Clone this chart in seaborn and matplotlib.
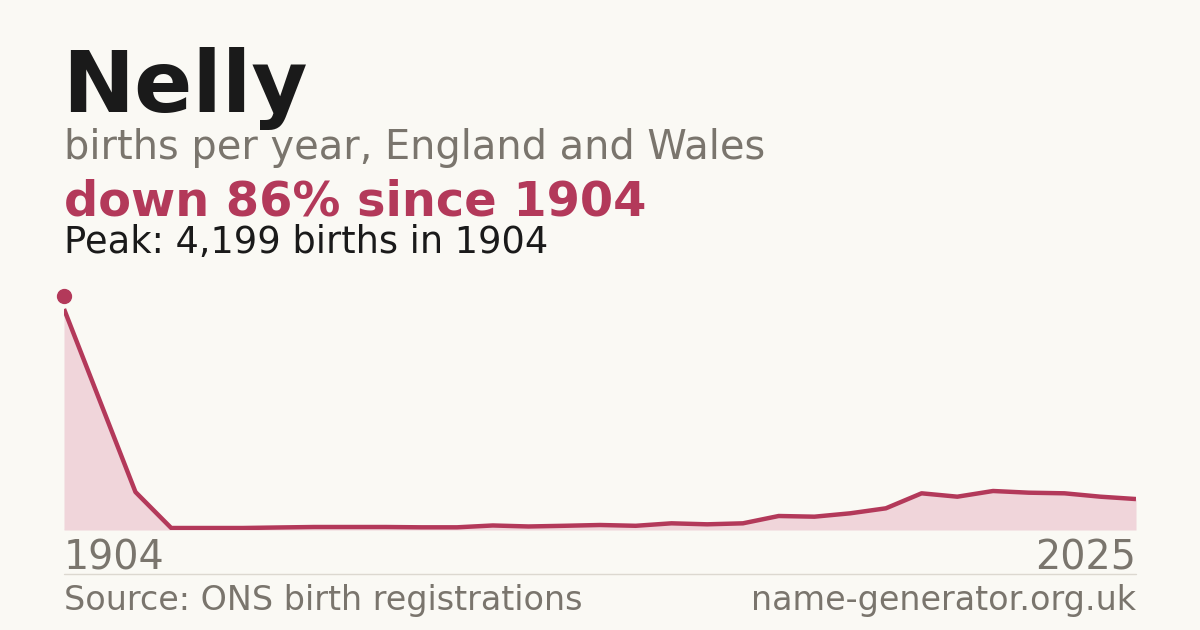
import numpy as np
import pandas as pd
import matplotlib
matplotlib.use("Agg")
import matplotlib.pyplot as plt
import matplotlib.transforms as mtransforms
import seaborn as sns

# ---- data ----
name = "Nelly"
years = [1904, 1908, 1912, 1916, 1920, 1924, 1928, 1932, 1936, 1940,
         1944, 1948, 1952, 1956, 1960, 1964, 1968, 1972, 1976, 1980,
         1984, 1988, 1992, 1996, 2000, 2004, 2008, 2012, 2016, 2020, 2025]
births = [4199, 2460, 722, 38, 38, 38, 48, 57, 57, 57,
          51, 51, 86, 67, 80, 95, 80, 127, 108, 127,
          266, 253, 317, 412, 697, 633, 741, 709, 697, 633, 588]
first_label = "1904"
last_label = "2025"
subtitle = "births per year, England and Wales"
change_text = "down 86% since 1904"
peak_text = "Peak: 4,199 births in 1904"
source_text = "Source: ONS birth registrations"
site_text = "name-generator.org.uk"

BG = "#faf9f4"
RED = "#b3395a"
FILL = "#f0d5da"
GREY = "#7a756d"
DARK = "#1a1a1a"

sns.set_theme(style="white")
plt.rcParams["font.family"] = ["DejaVu Sans"]

W, H = 1200, 630
fig = plt.figure(figsize=(W / 100, H / 100), dpi=100, facecolor=BG)

left, right = 64 / W, 1136 / W
bottom, top = 1 - 530 / H, 1 - 296 / H
ax = fig.add_axes([left, bottom, right - left, top - bottom])
ax.set_facecolor(BG)

df = pd.DataFrame({"idx": np.arange(len(years)), "year": years, "births": births})
peak = max(births)
ax.fill_between(df["idx"], 0, df["births"], color=FILL, lw=0, zorder=1)
sns.lineplot(data=df, x="idx", y="births", ax=ax, color=RED, lw=3.2,
             solid_joinstyle="round", solid_capstyle="butt", zorder=3)
# peak marker (drawn slightly above the line start)
pk = int(np.argmax(births))
off = mtransforms.offset_copy(ax.transData, fig=fig, x=0, y=13, units="dots")
ax.plot([df["idx"][pk]], [peak], "o", ms=10, color=RED, transform=off,
        clip_on=False, zorder=4)

ax.set_xlim(0, len(years) - 1)
ax.set_ylim(0, peak * 234 / 221)
ax.set_xlabel("")
ax.set_ylabel("")
ax.set_xticks([])
ax.set_yticks([])
for s in ax.spines.values():
    s.set_visible(False)
ax.axhline(0, color="#dcd8d0", lw=1.0, zorder=0)

# separator line
fig.add_artist(plt.Line2D([left, right], [1 - 574 / H, 1 - 574 / H],
                          color="#dcd8d0", lw=1.0, transform=fig.transFigure))

def ftext(x, y_px, s, **kw):
    fig.text(x, 1 - y_px / H, s, va="baseline", **kw)

ftext(left - 2 / W, 112, name, fontsize=62, fontweight="bold", color=DARK)
ftext(left, 159, subtitle, fontsize=28.7, color=GREY)
ftext(left, 215, change_text, fontsize=34.5, fontweight="bold", color=RED)
ftext(left, 253, peak_text, fontsize=26.5, color=DARK)
ftext(left, 570, first_label, fontsize=28.5, color=GREY)
ftext(right, 570, last_label, fontsize=28.5, color=GREY, ha="right")
ftext(left, 610, source_text, fontsize=24, color=GREY)
ftext(right, 610, site_text, fontsize=24, color=GREY, ha="right")

fig.savefig("out.png", dpi=100, facecolor=BG)
